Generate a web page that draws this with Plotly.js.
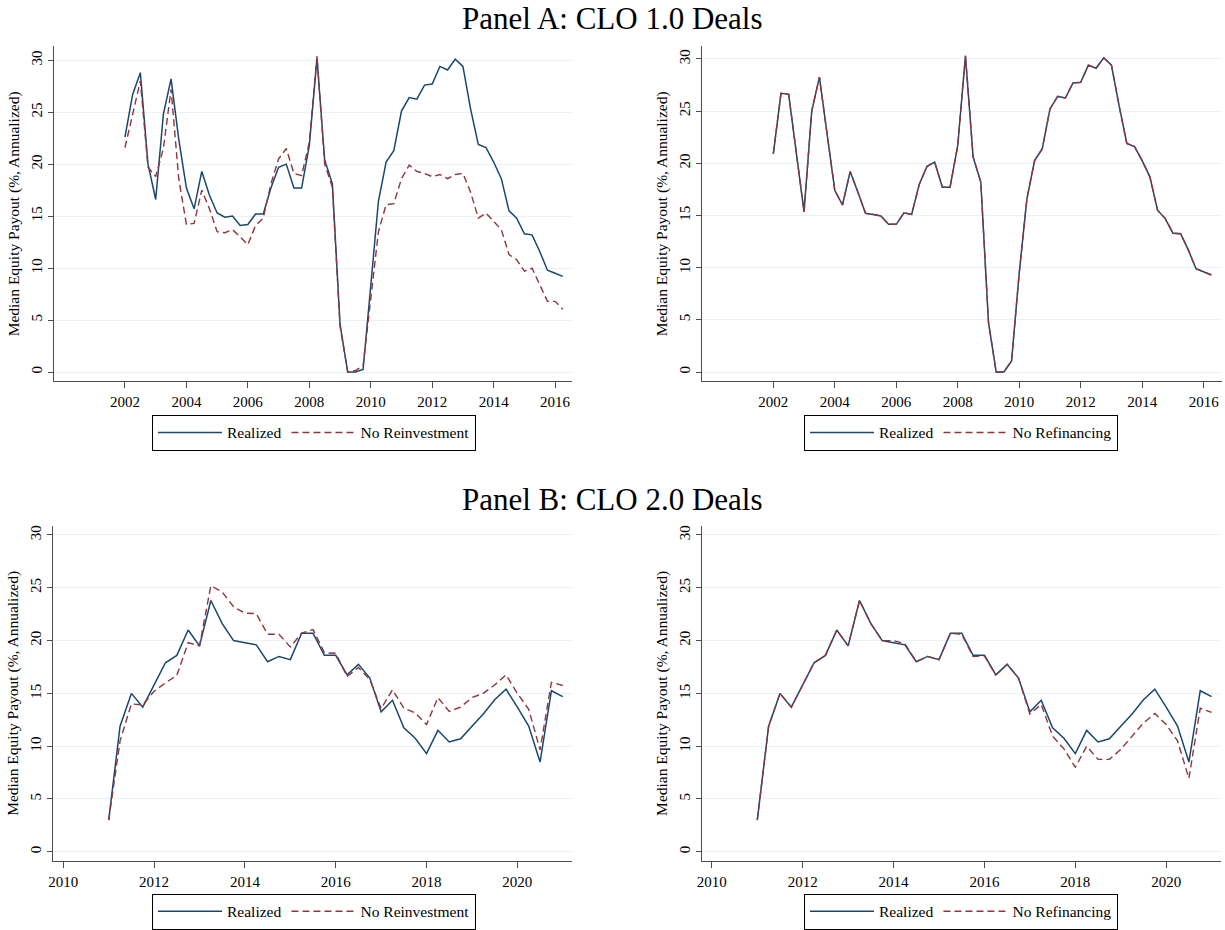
<!DOCTYPE html>
<html>
<head>
<meta charset="utf-8">
<script src="https://cdn.plot.ly/plotly-3.0.1.min.js"></script>
<style>html,body{margin:0;padding:0;background:#fff;}#chart{width:1225px;height:930px;}</style>
</head>
<body>
<div id="chart"></div>
<script>
// ---- Data ----
const quartersA = [2002,2002.25,2002.5,2002.75,2003,2003.25,2003.5,2003.75,2004,2004.25,2004.5,2004.75,2005,2005.25,2005.5,2005.75,2006,2006.25,2006.5,2006.75,2007,2007.25,2007.5,2007.75,2008,2008.25,2008.5,2008.75,2009,2009.25,2009.5,2009.75,2010,2010.25,2010.5,2010.75,2011,2011.25,2011.5,2011.75,2012,2012.25,2012.5,2012.75,2013,2013.25,2013.5,2013.75,2014,2014.25,2014.5,2014.75,2015,2015.25,2015.5,2015.75,2016,2016.25];
const realizedA_left = [22.6,26.7,28.8,20.0,16.6,24.8,28.2,22.4,17.7,15.7,19.3,17.0,15.3,14.9,15.0,14.1,14.2,15.2,15.2,17.7,19.7,20.0,17.7,17.7,21.8,30.2,20.4,18.1,4.6,0.0,0.0,0.25,8.3,16.45,20.2,21.3,25.1,26.4,26.25,27.6,27.7,29.4,29.05,30.1,29.4,25.3,21.9,21.6,20.2,18.6,15.5,14.8,13.3,13.2,11.6,9.8,9.5,9.2];
const noReinvestA = [21.6,24.8,28.0,19.7,18.8,21.5,27.2,18.6,14.2,14.3,17.5,15.7,13.5,13.4,13.7,13.0,12.25,14.1,14.8,18.1,20.5,21.5,19.1,18.9,22.1,30.4,20.0,17.8,4.4,0.0,0.15,0.6,7.0,13.5,16.1,16.2,18.6,19.9,19.3,19.1,18.8,19.0,18.6,19.0,19.1,17.3,14.8,15.3,14.5,13.7,11.3,10.8,9.7,10.0,8.4,6.8,6.8,6.05];
const realizedA_right = [20.9,26.7,26.6,21.0,15.35,25.0,28.25,22.8,17.4,16.0,19.2,17.25,15.2,15.1,14.95,14.15,14.15,15.25,15.1,18.0,19.7,20.1,17.7,17.7,21.7,30.3,20.6,18.2,4.75,0,0,1.05,9.5,16.6,20.25,21.4,25.2,26.4,26.25,27.7,27.75,29.4,29.1,30.1,29.4,25.5,21.9,21.6,20.25,18.7,15.5,14.7,13.3,13.25,11.7,9.9,9.6,9.3];
const noRefiA = [20.9,26.7,26.6,21.0,15.35,25.0,28.25,22.8,17.4,16.0,19.2,17.25,15.2,15.1,14.95,14.15,14.15,15.25,15.1,18.0,19.7,20.1,17.7,17.7,21.7,30.3,20.6,18.2,4.75,0,0,1.05,9.5,16.6,20.25,21.4,25.2,26.4,26.25,27.7,27.75,29.4,29.1,30.1,29.4,25.5,21.9,21.6,20.25,18.7,15.5,14.7,13.3,13.25,11.7,9.9,9.6,9.3];

const quartersB = [2011,2011.25,2011.5,2011.75,2012,2012.25,2012.5,2012.75,2013,2013.25,2013.5,2013.75,2014,2014.25,2014.5,2014.75,2015,2015.25,2015.5,2015.75,2016,2016.25,2016.5,2016.75,2017,2017.25,2017.5,2017.75,2018,2018.25,2018.5,2018.75,2019,2019.25,2019.5,2019.75,2020,2020.25,2020.5,2020.75,2021];
const realizedB = [3.0,11.9,15.0,13.7,15.8,17.9,18.6,21.0,19.5,23.8,21.6,20.0,19.8,19.6,18.0,18.5,18.2,20.7,20.7,18.6,18.6,16.75,17.75,16.45,13.25,14.35,11.75,10.75,9.3,11.5,10.4,10.7,11.9,13.05,14.4,15.4,13.7,11.9,8.5,15.25,14.7];
const noReinvestB = [3.0,10.5,14.0,13.9,15.2,16.0,16.7,19.8,19.5,25.2,24.6,23.2,22.6,22.55,20.6,20.6,19.4,20.7,21.05,18.85,18.8,16.6,17.45,16.3,13.55,15.35,13.6,13.15,12.05,14.6,13.3,13.7,14.6,15.0,15.8,16.75,15.0,13.5,9.65,16.05,15.75];
const noRefiB = [3.0,11.9,15.0,13.7,15.8,17.9,18.6,21.0,19.5,23.8,21.6,20.0,20.0,19.7,18.0,18.5,18.2,20.7,20.6,18.5,18.55,16.75,17.75,16.45,13.05,13.95,10.95,9.75,8.0,10.0,8.75,8.75,9.7,10.95,12.2,13.1,12.05,10.5,6.95,13.6,13.2];

const ticksA = [2002,2004,2006,2008,2010,2012,2014,2016];
const ticksB = [2010,2012,2014,2016,2018,2020];
const ticksY = [0,5,10,15,20,25,30];

const panelTitles = ["Panel A: CLO 1.0 Deals", "Panel B: CLO 2.0 Deals"];
const yTitle = "Median Equity Payout (%, Annualized)";
const nameRealized = "Realized";
const nameReinv = "No Reinvestment";
const nameRefi = "No Refinancing";

// ---- Styles ----
const FONT = "Liberation Serif, Times New Roman, serif";
const BLUE = "#1a476f";
const RED = "#90353b";
const AXC = "#4d4d4d";

function solid(x, y, xa, ya, lg) {
  return {x: x, y: y, xaxis: xa, yaxis: ya, type: 'scatter', mode: 'lines', name: nameRealized,
          line: {color: BLUE, width: 1.5}, legend: lg, hoverinfo: 'skip'};
}
function dashed(x, y, xa, ya, lg, nm) {
  return {x: x, y: y, xaxis: xa, yaxis: ya, type: 'scatter', mode: 'lines', name: nm,
          line: {color: RED, width: 1.4, dash: '7px,4px'}, legend: lg, hoverinfo: 'skip'};
}

const data = [
  solid(quartersA, realizedA_left, 'x', 'y', 'legend'),
  dashed(quartersA, noReinvestA, 'x', 'y', 'legend', nameReinv),
  solid(quartersA, realizedA_right, 'x2', 'y2', 'legend2'),
  dashed(quartersA, noRefiA, 'x2', 'y2', 'legend2', nameRefi),
  solid(quartersB, realizedB, 'x3', 'y3', 'legend3'),
  dashed(quartersB, noReinvestB, 'x3', 'y3', 'legend3', nameReinv),
  solid(quartersB, realizedB, 'x4', 'y4', 'legend4'),
  dashed(quartersB, noRefiB, 'x4', 'y4', 'legend4', nameRefi)
];

function xax(domain, range, ticks, anchor) {
  return {domain: domain, range: range, anchor: anchor, tickmode: 'array', tickvals: ticks,
          showline: true, linecolor: AXC, linewidth: 1, ticks: 'outside', ticklen: 6, tickcolor: AXC,
          ticklabelstandoff: 1,
          showgrid: false, zeroline: false, tickfont: {family: FONT, size: 15, color: '#000'}, fixedrange: true};
}
function yax(domain, range, anchor) {
  return {domain: domain, range: range, anchor: anchor, tickmode: 'array', tickvals: ticksY,
          showline: true, linecolor: AXC, linewidth: 1, ticks: 'outside', ticklen: 5, tickcolor: AXC,
          showgrid: true, gridcolor: '#eaf2f3', gridwidth: 1, zeroline: false, tickangle: -90,
          tickfont: {family: FONT, size: 15, color: '#000'},
          title: {text: yTitle, font: {family: FONT, size: 15.5, color: '#000'}, standoff: 5}, fixedrange: true};
}
function leg(x, y) {
  return {x: x, y: y, xanchor: 'center', yanchor: 'top', orientation: 'h', bordercolor: '#000', borderwidth: 1,
          bgcolor: '#fff', font: {family: FONT, size: 15.5, color: '#000'}, itemwidth: 64, itemclick: false, itemdoubleclick: false};
}

const xdA1 = [54/1225, 572/1225], xdA2 = [702.3/1225, 1221.5/1225];
const xdB1 = [53.3/1225, 572.3/1225], xdB2 = [702.3/1225, 1220.7/1225];
const ydA = [1 - 384.3/930, 1 - 46.7/930];
const ydB = [1 - 867.3/930, 1 - 530/930];

const layout = {
  width: 1225, height: 930, margin: {l: 0, r: 0, t: 0, b: 0},
  paper_bgcolor: '#fff', plot_bgcolor: '#fff', font: {family: FONT, color: '#000'},
  xaxis: xax(xdA1, [1999.69, 2016.55], ticksA, 'y'),
  yaxis: yax(ydA, [-0.9, 31.33], 'x'),
  xaxis2: xax(xdA2, [1999.69, 2016.58], ticksA, 'y2'),
  yaxis2: yax(ydA, [-0.9, 31.2], 'x2'),
  xaxis3: xax(xdB1, [2009.78, 2021.21], ticksB, 'y3'),
  yaxis3: yax(ydB, [-0.85, 30.85], 'x3'),
  xaxis4: xax(xdB2, [2009.79, 2021.2], ticksB, 'y4'),
  yaxis4: yax(ydB, [-0.85, 30.85], 'x4'),
  legend: leg(314/1225, 1 - 418/930),
  legend2: leg(961/1225, 1 - 418/930),
  legend3: leg(314/1225, 1 - 900.5/930),
  legend4: leg(961/1225, 1 - 900.5/930),
  annotations: [
    {text: panelTitles[0], xref: 'paper', yref: 'paper', x: 0.5, y: 1 - 18.5/930, xanchor: 'center', yanchor: 'middle',
     showarrow: false, font: {family: FONT, size: 31, color: '#000'}},
    {text: panelTitles[1], xref: 'paper', yref: 'paper', x: 0.5, y: 1 - 503/930, xanchor: 'center', yanchor: 'middle',
     showarrow: false, font: {family: FONT, size: 31, color: '#000'}}
  ]
};

Plotly.newPlot('chart', data, layout, {displayModeBar: false, staticPlot: true});
</script>
</body>
</html>
